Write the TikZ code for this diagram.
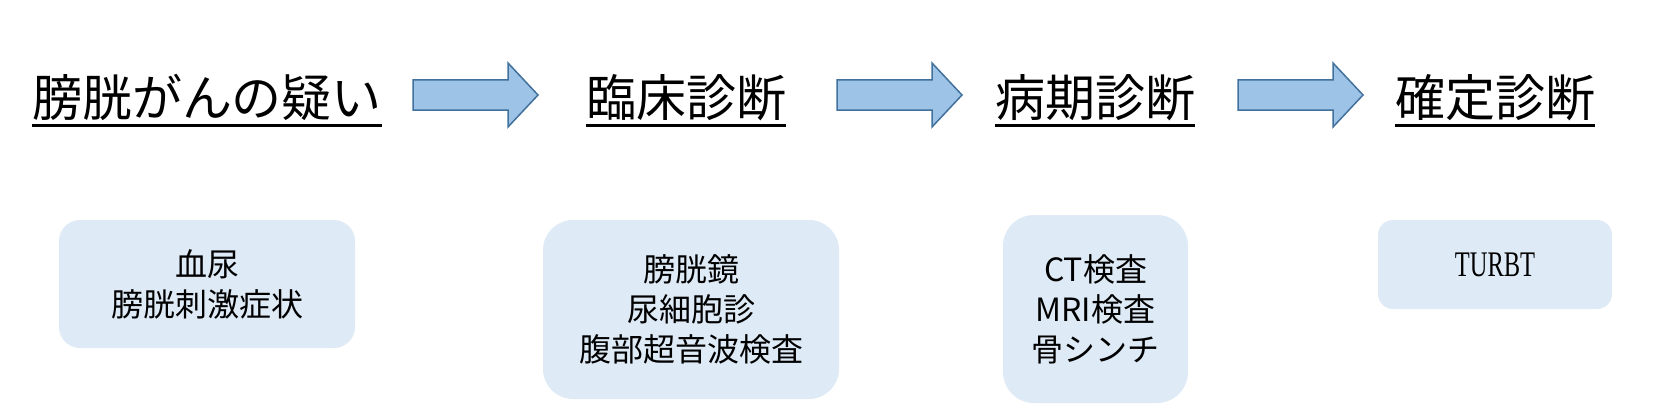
\documentclass[tikz,border=0pt]{standalone}
\usepackage{fontspec}
\usepackage{graphicx}
\newfontfamily\jpfont{Noto Sans CJK JP}
\newfontfamily\latinserif{Liberation Serif}
\definecolor{arrowfill}{HTML}{9DC3E6}
\definecolor{arrowline}{HTML}{41719C}
\definecolor{boxfill}{HTML}{DEEAF6}
\tikzset{
  titletext/.style={inner sep=0pt, anchor=base, font={\jpfont\fontsize{50}{55}\selectfont}},
  uline/.style={line width=3pt, black},
  blockarrow/.style={fill=arrowfill, draw=arrowline, line width=1.5pt, line join=miter},
  infobox/.style={fill=boxfill, draw=none, inner sep=0pt, align=center,
    font={\jpfont\fontsize{32}{40}\selectfont}}
}
\begin{document}
\begin{tikzpicture}[x=1pt,y=-1pt]
\useasboundingbox (0,0) rectangle (1658,404);
% titles
\node[titletext] (t1) at (207,117) {膀胱がんの疑い};
\node[titletext] (t2) at (686,117) {臨床診断};
\node[titletext] (t3) at (1095,117) {病期診断};
\node[titletext] (t4) at (1495,117) {確定診断};
\foreach \t in {t1,t2,t3,t4}{
  \draw[uline] ([yshift=-8pt]\t.base west) -- ([yshift=-8pt]\t.base east);
}
% block arrows
\foreach \x/\n in {413/a1,837/a2,1238/a3}{
  \coordinate (\n) at (\x,95);
  \draw[blockarrow] (\x,80) -- ++(95,0) -- ++(0,-17) -- ++(30,32) -- ++(-30,32) -- ++(0,-17) -- (\x,110) -- cycle;
}
% boxes
\node[infobox, rounded corners=21pt, minimum width=296pt, minimum height=128pt] (b1) at (207,284)
  {血尿\\膀胱刺激症状};
\node[infobox, rounded corners=30pt, minimum width=296pt, minimum height=179pt] (b2) at (691,309.5)
  {膀胱鏡\\尿細胞診\\腹部超音波検査};
\node[infobox, rounded corners=31pt, minimum width=185pt, minimum height=188pt] (b3) at (1095.5,309)
  {CT検査\\MRI検査\\骨シンチ};
\node[infobox, rounded corners=15pt, minimum width=234pt, minimum height=89pt] (b4) at (1495,264.5)
  {\latinserif\fontsize{36}{40}\selectfont\scalebox{0.68}[1]{TURBT}};
\end{tikzpicture}
\end{document}
